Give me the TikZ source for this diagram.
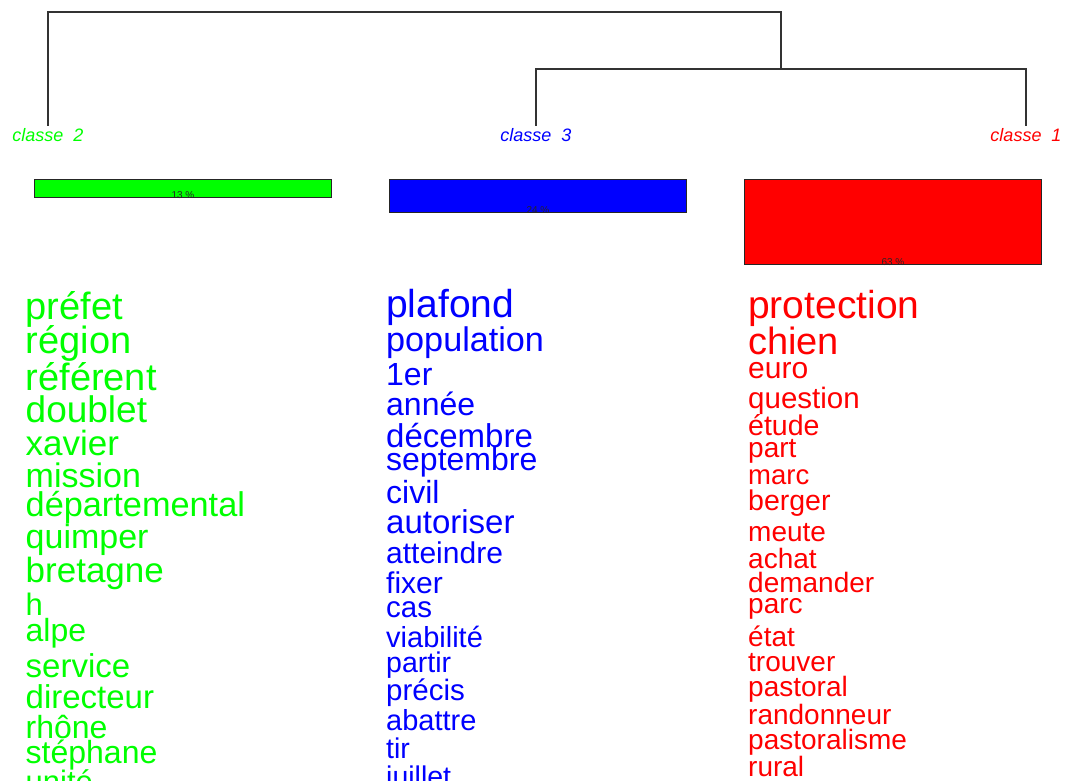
\documentclass[tikz,border=0pt]{standalone}
\usepackage{fontspec}
\newfontfamily\arial{Liberation Sans}
\definecolor{cgreen}{RGB}{0,255,0}
\definecolor{cblue}{RGB}{0,0,255}
\definecolor{cred}{RGB}{255,0,0}
\tikzset{
  tree/.style={draw=black!80, line width=1.2pt},
  classlabel/.style={inner sep=0pt, anchor=base, font={\arial\itshape\fontsize{18}{18}\selectfont}},
  bar/.style={draw=black!85, line width=0.9pt, inner sep=0pt, anchor=north west},
  pct/.style={inner sep=0pt, anchor=base, font={\arial\fontsize{10}{10}\selectfont}, text=black!85},
  word/.style={inner sep=0pt, anchor=base west},
}
\begin{document}
\begin{tikzpicture}[x=1pt, y=-1pt]
\useasboundingbox (0,0) rectangle (1065,780);
\clip (0,0) rectangle (1065,780);

% class labels (leaves of the dendrogram)
\node[classlabel, text=cgreen] (c2) at (48,141) {classe\ \ 2};
\node[classlabel, text=cblue]  (c3) at (536,141) {classe\ \ 3};
\node[classlabel, text=cred]   (c1) at (1026,141) {classe\ \ 1};

% dendrogram
\coordinate (root) at (781,12);
\coordinate (sub) at (781,69);
\draw[tree] ([yshift=2pt]c2.north) |- (root) -- (sub);
\draw[tree] ([yshift=2pt]c3.north) |- (sub) -| ([yshift=2pt]c1.north);

% class size bars
\node[bar, fill=cgreen, minimum width=297pt, minimum height=18pt] (b2) at (34,179) {};
\node[bar, fill=cblue,  minimum width=297pt, minimum height=33pt] (b3) at (389,179) {};
\node[bar, fill=cred,   minimum width=297pt, minimum height=85pt] (b1) at (744,179) {};
\node[pct] (p2) at ([yshift=-1pt]b2.south) {13 \%};
\node[pct] (p3) at ([yshift=-1pt]b3.south) {24 \%};
\node[pct] (p1) at ([yshift=-1pt]b1.south) {63 \%};

% characteristic words of each class
\foreach \s/\y/\w [count=\i] in {
  38/319/préfet, 38/353/région, 38/390/référent, 37/422/doublet,
  35/455/xavier, 34/487/mission, 34.3/516/départemental, 34/548/quimper,
  35/582/bretagne, 31/615/h, 32/641/alpe, 33/677/service,
  33/708/directeur, 32/738/rhône, 32/763/stéphane, 31/792/unité}
  \node[word, text=cgreen, font={\arial\fontsize{\s}{\s}\selectfont}] (g\i) at (25.5,\y) {\w};

\foreach \s/\y/\w [count=\i] in {
  39/317/plafond, 34.2/351/population, 32/385/1er, 32/415/année,
  33/447/décembre, 32/470/septembre, 32/503/civil, 33/533/autoriser,
  30/563/atteindre, 30/593/fixer, 29.5/617/cas, 29/647/viabilité,
  28.5/672/partir, 29.5/700/précis, 29/730/abattre, 28.5/758/tir,
  28.5/786/juillet}
  \node[word, text=cblue, font={\arial\fontsize{\s}{\s}\selectfont}] (u\i) at (386,\y) {\w};

\foreach \s/\y/\w [count=\i] in {
  39/318/protection, 38/354/chien, 30/378/euro, 29.5/408/question,
  28.5/435/étude, 28/457/part, 27.5/484/marc, 28.5/510/berger,
  28/541/meute, 28/568/achat, 28/592/demander, 28/613/parc,
  28/646/état, 28/671/trouver, 28/696/pastoral, 28/724/randonneur,
  28/749/pastoralisme, 28/776/rural}
  \node[word, text=cred, font={\arial\fontsize{\s}{\s}\selectfont}] (r\i) at (748,\y) {\w};
\end{tikzpicture}
\end{document}
